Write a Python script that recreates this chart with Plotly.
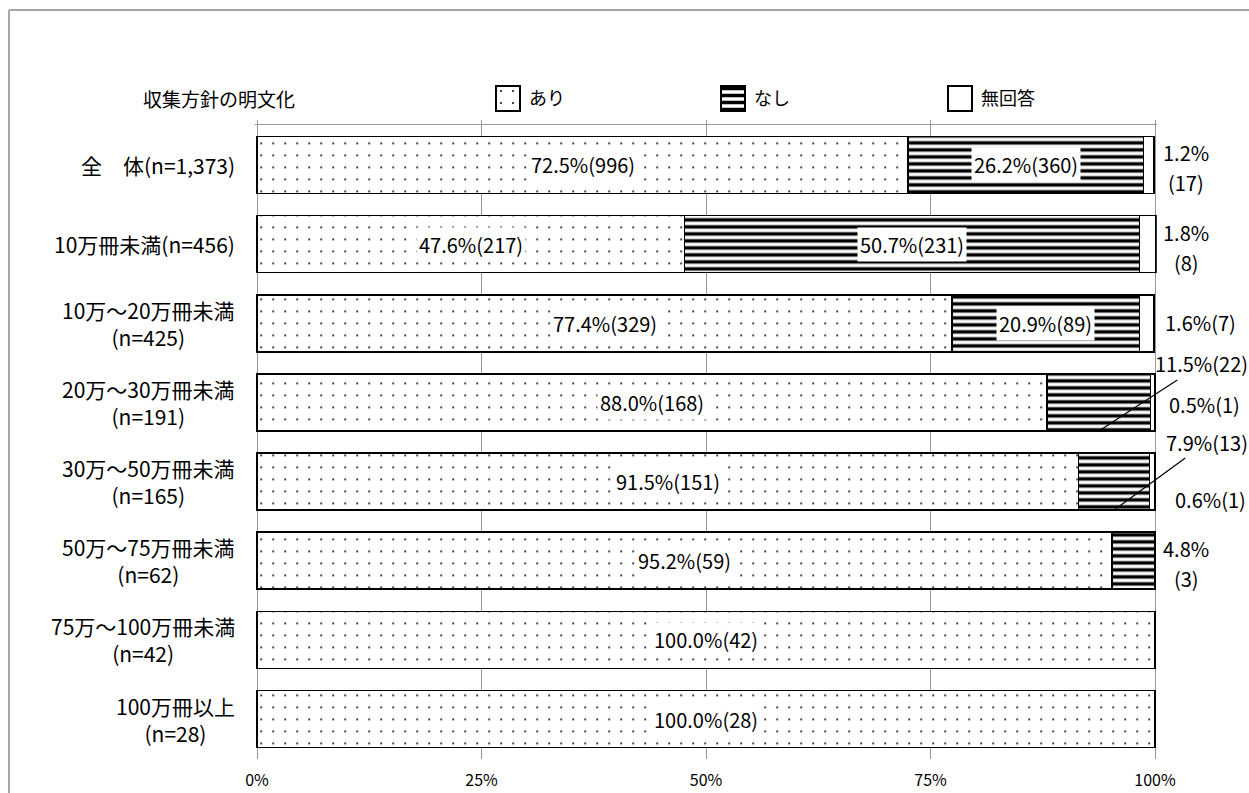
import plotly.graph_objects as go

W, H = 1249, 793
FONT = "Noto Sans CJK JP"

# ---------------- data ----------------
categories = [
    "全　体(n=1,373)",
    "10万冊未満(n=456)",
    "10万～20万冊未満<br>(n=425)",
    "20万～30万冊未満<br>(n=191)",
    "30万～50万冊未満<br>(n=165)",
    "50万～75万冊未満<br>(n=62)",
    "75万～100万冊未満<br>(n=42)",
    "100万冊以上<br>(n=28)",
]
series_names = ["あり", "なし", "無回答"]
ari_pct = [72.5, 47.6, 77.4, 88.0, 91.5, 95.2, 100.0, 100.0]
ari_n = [996, 217, 329, 168, 151, 59, 42, 28]
nashi_pct = [26.2, 50.7, 20.9, 11.5, 7.9, 4.8, 0.0, 0.0]
nashi_n = [360, 231, 89, 22, 13, 3, 0, 0]
muk_pct = [1.2, 1.8, 1.6, 0.5, 0.6, 0.0, 0.0, 0.0]
muk_n = [17, 8, 7, 1, 1, 0, 0, 0]
tick_vals = [0, 25, 50, 75, 100]
tick_text = ["0%", "25%", "50%", "75%", "100%"]
title_text = "収集方針の明文化"

# ---------------- helpers ----------------
def px_x(p):
    return p / W

def px_y(p):
    return 1 - p / H

LINE = dict(color="black", width=1.5)
styles = [
    dict(color="white", line=LINE,
         pattern=dict(shape=".", size=12, solidity=0.02, fgcolor="black",
                      bgcolor="white", fillmode="replace")),
    dict(color="white", line=LINE,
         pattern=dict(shape="-", size=7, solidity=0.5, fgcolor="black",
                      bgcolor="white", fillmode="replace")),
    dict(color="white", line=LINE),
]

fig = go.Figure()
for name, vals, st in zip(series_names, [ari_pct, nashi_pct, muk_pct], styles):
    fig.add_trace(go.Bar(
        x=vals, y=categories, orientation="h", name=name, marker=st,
        width=0.72, showlegend=False, hoverinfo="skip",
    ))

# legend swatches (each on its own tiny axis pair)
sw_x = [(495, 521), (720, 746), (947, 973)]
sw_y = (85, 112)
for k, (name, st, (x0, x1)) in enumerate(zip(series_names, styles, sw_x)):
    ax_i = k + 3
    fig.add_trace(go.Bar(
        x=[1], y=[0], orientation="h", marker=st, width=1,
        xaxis=f"x{ax_i}", yaxis=f"y{ax_i}", showlegend=False, hoverinfo="skip",
    ))
    fig.layout[f"xaxis{ax_i}"] = dict(
        domain=[px_x(x0), px_x(x1)], range=[-0.04, 1.04], visible=False,
        anchor=f"y{ax_i}", fixedrange=True, automargin=False)
    fig.layout[f"yaxis{ax_i}"] = dict(
        domain=[px_y(sw_y[1]), px_y(sw_y[0])], range=[-0.54, 0.54],
        visible=False, anchor=f"x{ax_i}", fixedrange=True, automargin=False)

# invisible trace to keep the top overlay axis
fig.add_trace(go.Scatter(x=[0, 100], y=[categories[0], categories[0]],
                         xaxis="x2", mode="none", showlegend=False,
                         hoverinfo="skip"))

x_dom = [px_x(257 - 1.796), px_x(1155 + 1.796)]
y_dom = [px_y(758.6), px_y(125.4)]

annotations = []
in_font = dict(size=20, color="black", family=FONT)
# inside labels
for i in range(len(categories)):
    annotations.append(dict(
        x=ari_pct[i] / 2, y=i, xref="x", yref="y",
        text=f"{ari_pct[i]:.1f}%({ari_n[i]})", showarrow=False,
        xanchor="center", yanchor="middle",
        bgcolor="white", borderpad=2, font=in_font))
for i in range(3):
    annotations.append(dict(
        x=ari_pct[i] + nashi_pct[i] / 2, y=i, xref="x", yref="y",
        text=f"{nashi_pct[i]:.1f}%({nashi_n[i]})", showarrow=False,
        xanchor="center", yanchor="middle",
        bgcolor="white", borderpad=2, font=in_font))

lab_font = dict(size=20, color="black", family=FONT)
# two-line outside labels (percent above, count below)
two_line = [(0, muk_pct[0], muk_n[0]), (1, muk_pct[1], muk_n[1]), (5, nashi_pct[5], nashi_n[5])]
for i, p, n in two_line:
    annotations.append(dict(x=100, y=i, xref="x", yref="y", text=f"{p:.1f}%",
                            showarrow=False, xanchor="center", yanchor="middle",
                            xshift=31, yshift=12, font=lab_font))
    annotations.append(dict(x=100, y=i, xref="x", yref="y", text=f"({n})",
                            showarrow=False, xanchor="center", yanchor="middle",
                            xshift=31, yshift=-18, font=lab_font))
# single-line outside labels
for i, xs, ys in [(2, 8, 1), (3, 12, -2), (4, 18, -18)]:
    annotations.append(dict(x=100, y=i, xref="x", yref="y",
                            text=f"{muk_pct[i]:.1f}%({muk_n[i]})", showarrow=False,
                            xanchor="left", yanchor="middle", xshift=xs, yshift=ys,
                            font=lab_font))
# leader-line labels for small なし segments
for i, axp, ayp in [(3, 103, -67), (4, 93, -68)]:
    annotations.append(dict(x=ari_pct[i] + nashi_pct[i] / 2, y=i + 0.36,
                            xref="x", yref="y",
                            text=f"{nashi_pct[i]:.1f}%({nashi_n[i]})",
                            showarrow=True, arrowhead=0, arrowwidth=1.2,
                            arrowcolor="black", ax=axp, ay=ayp, standoff=0,
                            font=lab_font))

# category labels
for i, c in enumerate(categories):
    annotations.append(dict(x=px_x(237), y=i, xref="paper", yref="y", text=c,
                            showarrow=False, xanchor="right", yanchor="middle",
                            align="center",
                            font=dict(size=21, color="black", family=FONT)))

# title and legend texts
annotations.append(dict(x=px_x(219), y=px_y(98), xref="paper", yref="paper",
                        text=title_text, showarrow=False, xanchor="center",
                        yanchor="middle",
                        font=dict(size=19, color="black", family=FONT)))
for name, (x0, x1) in zip(series_names, sw_x):
    annotations.append(dict(x=px_x(x1 + 6), y=px_y(97), xref="paper", yref="paper",
                            text=name, showarrow=False, xanchor="left",
                            yanchor="middle",
                            font=dict(size=18, color="black", family=FONT)))

shapes = [
    dict(type="line", xref="paper", yref="paper", x0=px_x(9), x1=1.0,
         y0=px_y(10), y1=px_y(10), line=dict(color="#a6a6a6", width=2)),
    dict(type="line", xref="paper", yref="paper", x0=px_x(9), x1=px_x(9),
         y0=0, y1=px_y(10), line=dict(color="#a6a6a6", width=2)),
]

fig.update_layout(
    width=W, height=H, autosize=False, barmode="stack", bargap=0.28,
    paper_bgcolor="white", plot_bgcolor="white",
    margin=dict(l=0, r=0, t=0, b=0, pad=0, autoexpand=False),
    font=dict(family=FONT, color="black"),
    xaxis=dict(domain=x_dom, range=[-0.2, 100.2], tickvals=tick_vals,
               ticktext=tick_text, showgrid=True, gridcolor="#999999",
               gridwidth=1, zeroline=False, showline=False, ticks="",
               ticklabelstandoff=10, fixedrange=True, automargin=False,
               tickfont=dict(size=16, color="black", family=FONT)),
    xaxis2=dict(overlaying="x", anchor="y", side="top", range=[-0.2, 100.2],
                domain=x_dom, tickvals=tick_vals, showticklabels=False,
                showgrid=False, zeroline=False, showline=True,
                linecolor="#999999", linewidth=1, ticks="outside", ticklen=4,
                tickcolor="#999999", fixedrange=True, automargin=False),
    yaxis=dict(domain=y_dom, type="category", categoryorder="array",
               categoryarray=categories, range=[7.5, -0.5],
               showticklabels=False, showgrid=False, zeroline=False,
               showline=False, ticks="", fixedrange=True, automargin=False),
    annotations=annotations,
    shapes=shapes,
)

fig.write_html("out.html", config={"responsive": False})
